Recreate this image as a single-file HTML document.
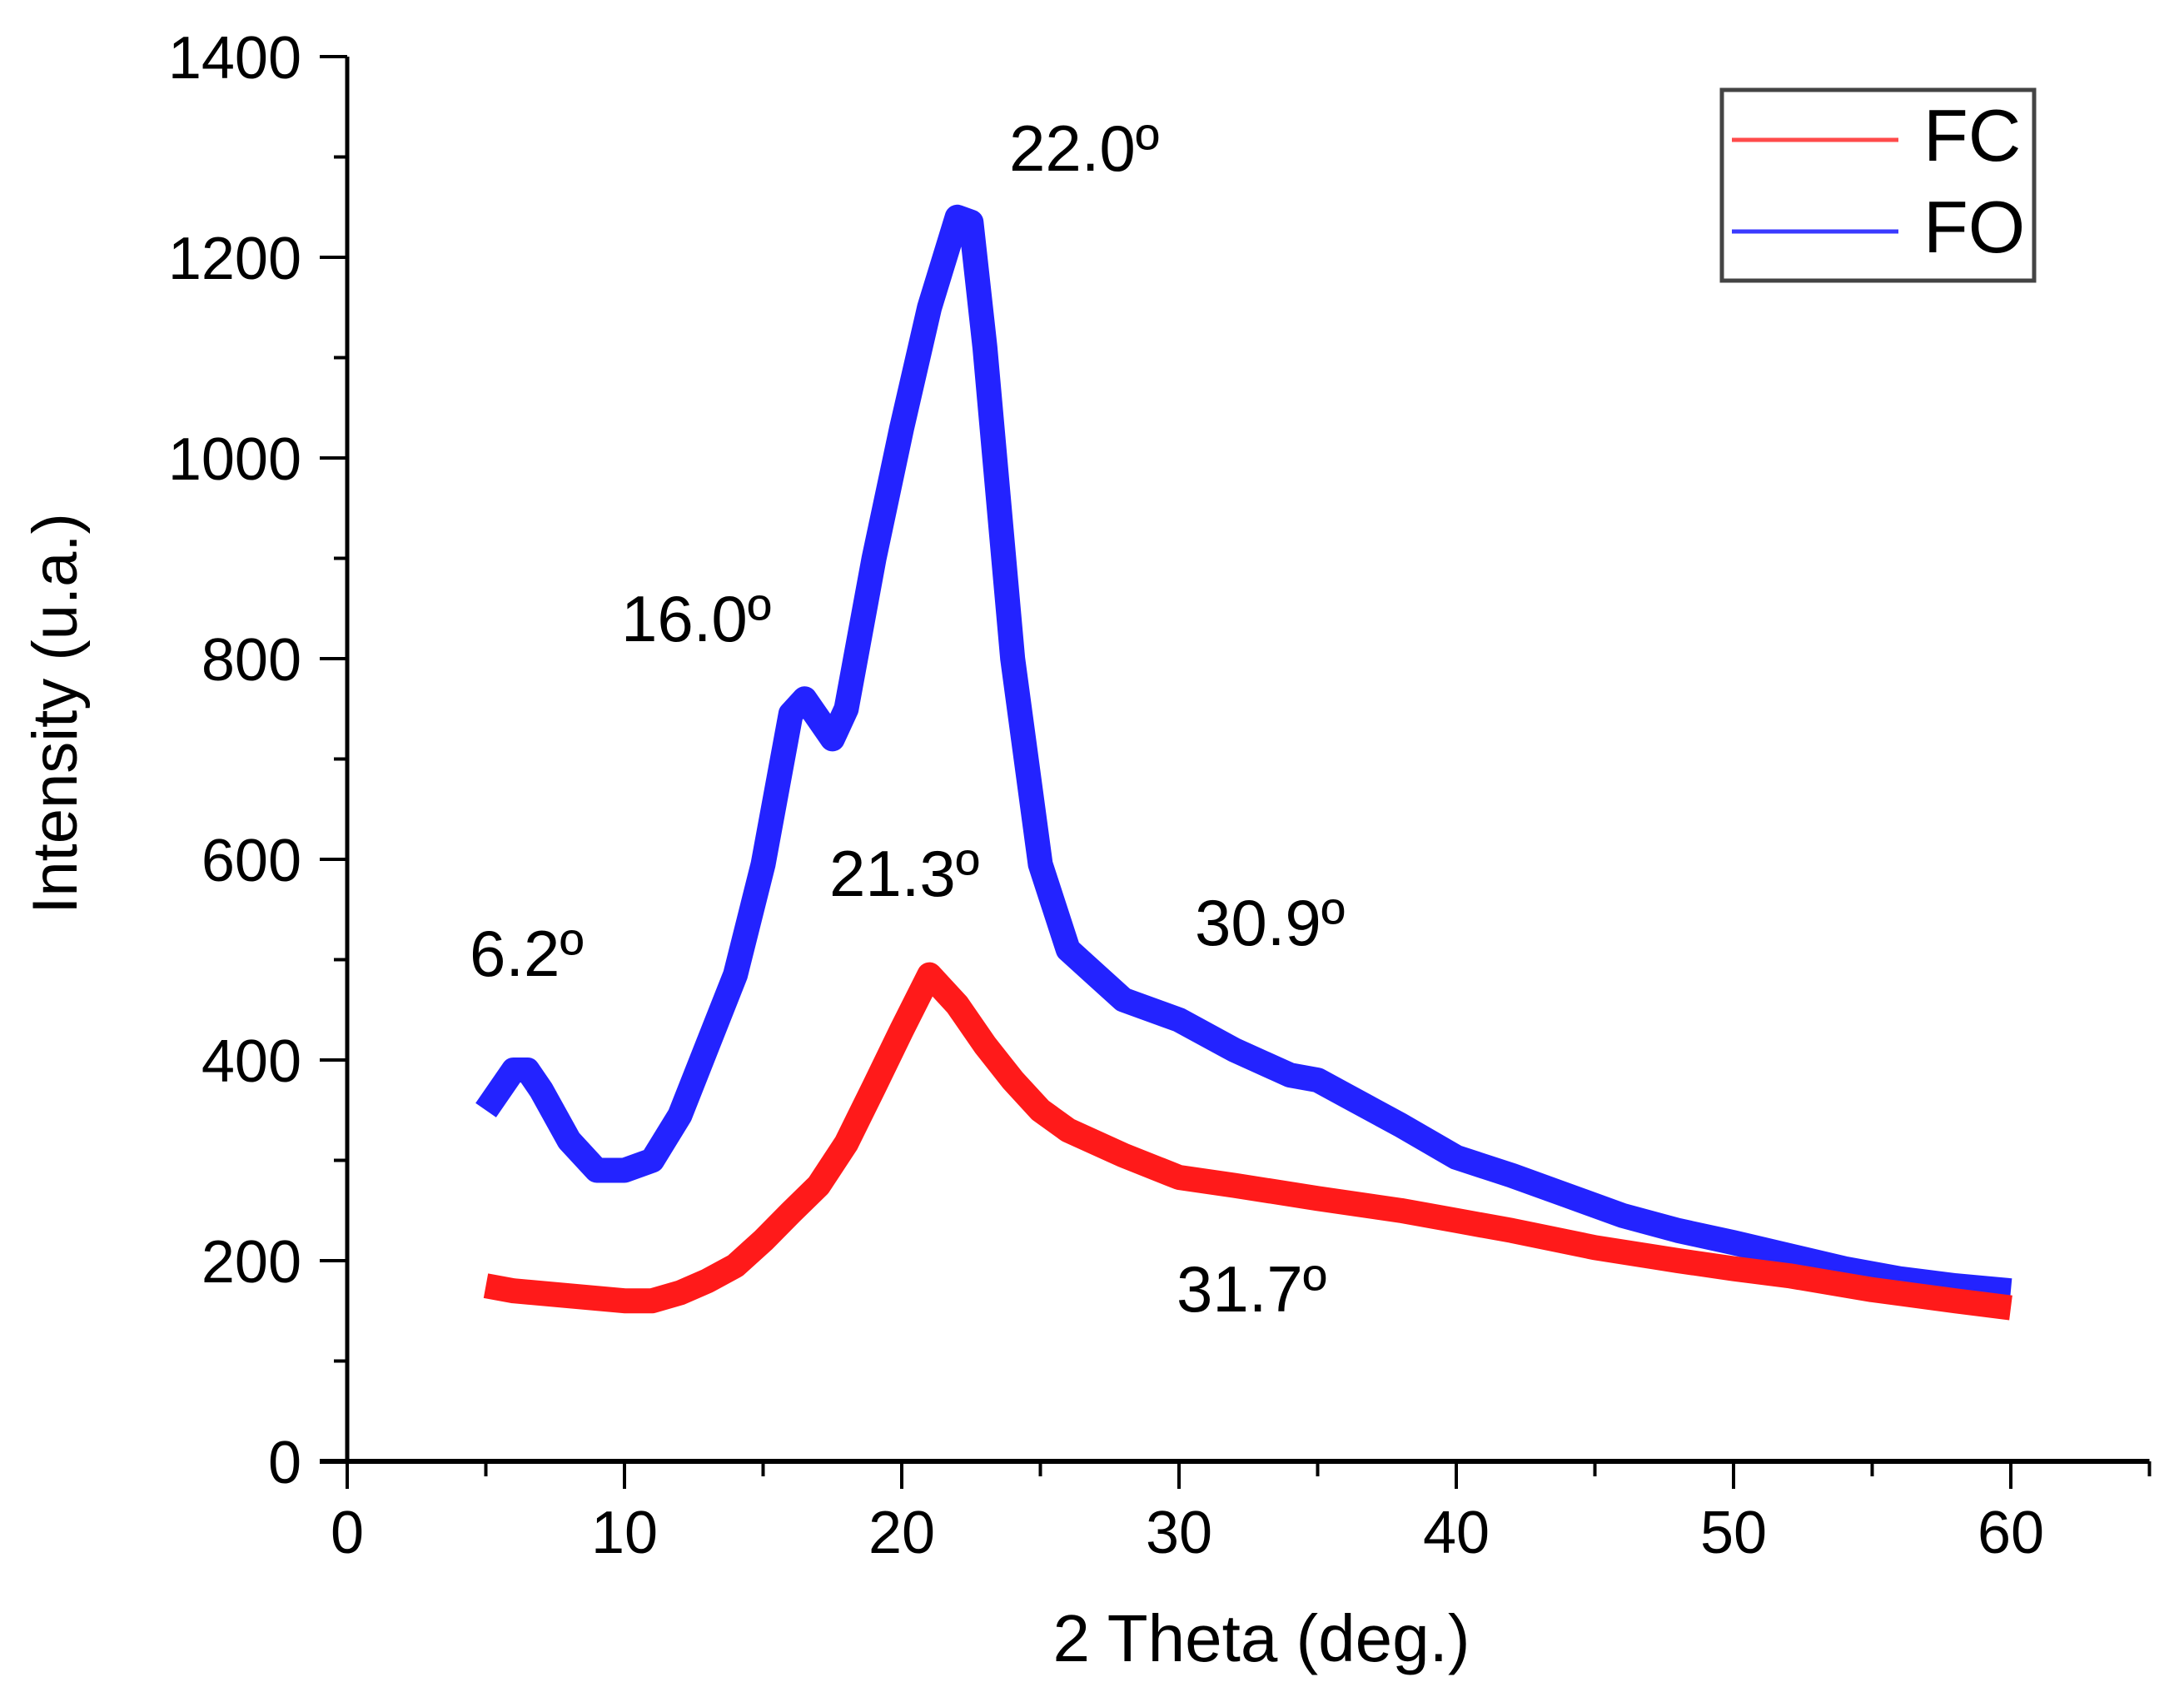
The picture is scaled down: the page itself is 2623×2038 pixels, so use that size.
<!DOCTYPE html>
<html><head><meta charset="utf-8"><style>
html,body{margin:0;padding:0;background:#fff}
svg{display:block;font-family:"Liberation Sans",Arial,sans-serif}
</style></head><body>
<svg id="chart" width="2623" height="2038" viewBox="0 0 2623 2038" xmlns="http://www.w3.org/2000/svg">
<g id="series"></g>
<g id="axes"></g>
<text x="0" y="0" font-size="76" text-anchor="middle" transform="translate(92,857) rotate(-90)">Intensity (u.a.)</text>
<text x="1515" y="1995" font-size="80" text-anchor="middle">2 Theta (deg.)</text>
<g font-size="78">
<text x="1212" y="205">22.0º</text>
<text x="746" y="770">16.0º</text>
<text x="996" y="1076">21.3º</text>
<text x="564" y="1172">6.2º</text>
<text x="1435" y="1135">30.9º</text>
<text x="1413" y="1575">31.7º</text>
</g>
<g>
<rect x="2068" y="108" width="375" height="229" fill="#fff" stroke="#444" stroke-width="5"/>
<line x1="2080" y1="168" x2="2280" y2="168" stroke="#ff4a4a" stroke-width="5"/>
<text x="2310" y="193" font-size="88">FC</text>
<line x1="2080" y1="278" x2="2280" y2="278" stroke="#3a3aff" stroke-width="5"/>
<text x="2310" y="303" font-size="88">FO</text>
</g>
</svg>
<script>
const foX = [5,6,6.5,7,8,9,10,11,12,13,14,15,16,16.5,17,17.5,18,19,20,21,22,22.5,23,24,25,26,27,28,30,32,34,35,36,38,40,42,44,46,48,50,52,54,56,58,60];
const foY = [350,390,390,370,320,290,290,300,345,415,485,595,745,760,740,720,750,900,1030,1150,1240,1235,1110,800,595,510,485,460,440,410,385,380,365,335,303,285,265,245,230,218,205,192,182,175,170];
const fcX = [5,6,8,10,11,12,13,14,15,16,17,18,19,20,21,22,23,24,25,26,28,30,32,35,38,40,42,45,48,50,52,55,58,60];
const fcY = [175,170,165,160,160,168,180,195,220,248,275,317,373,430,485,455,415,380,350,330,305,283,275,262,250,240,230,213,200,192,185,171,160,153];
const xTicks = [0,10,20,30,40,50,60];
const yTicks = [0,200,400,600,800,1000,1200,1400];
const NS='http://www.w3.org/2000/svg';
const X0=417, XS=33.3, Y0=1755, YS=1.205;
function sx(v){return X0+v*XS;}
function sy(v){return Y0-v*YS;}
function mk(tag,attrs,parent){const e=document.createElementNS(NS,tag);for(const k in attrs)e.setAttribute(k,attrs[k]);parent.appendChild(e);return e;}
const ser=document.getElementById('series');
function drawSeries(xs,ys,color,name){
  let d='';xs.forEach((x,i)=>{d+=(i?'L':'M')+sx(x).toFixed(1)+','+sy(ys[i]).toFixed(1);});
  const p=mk('path',{d:d,fill:'none',stroke:color,'stroke-width':30,'stroke-linejoin':'round','stroke-linecap':'butt'},ser);
  
  
}
drawSeries(foX,foY,'#2323ff','series-fo');
drawSeries(fcX,fcY,'#ff1a1a','series-fc');
const ax=document.getElementById('axes');
const yl=mk('line',{x1:X0,y1:Y0,x2:X0,y2:sy(1400),stroke:'#000','stroke-width':5},ax);


const xl=mk('line',{x1:X0-33,y1:Y0,x2:sx(65),y2:Y0,stroke:'#000','stroke-width':6},ax);


for(let v=0;v<=65;v+=5){
  const major=v%10===0;
  const t=mk('line',{x1:sx(v),y1:Y0,x2:sx(v),y2:Y0+(major?33:18),stroke:'#000','stroke-width':4},ax);
  
  
}
xTicks.forEach(v=>{
  const t=mk('text',{x:sx(v),y:1865,'font-size':72,'text-anchor':'middle'},ax);
  t.textContent=v;
  
  
});
for(let v=0;v<=1400;v+=100){
  const major=v%200===0;
  const t=mk('line',{x1:X0,y1:sy(v),x2:X0-(major?33:16),y2:sy(v),stroke:'#000','stroke-width':4},ax);
  
  
}
yTicks.forEach(v=>{
  const t=mk('text',{x:362,y:sy(v)+26,'font-size':72,'text-anchor':'end'},ax);
  t.textContent=v;
  
  
});
</script>
</body></html>
